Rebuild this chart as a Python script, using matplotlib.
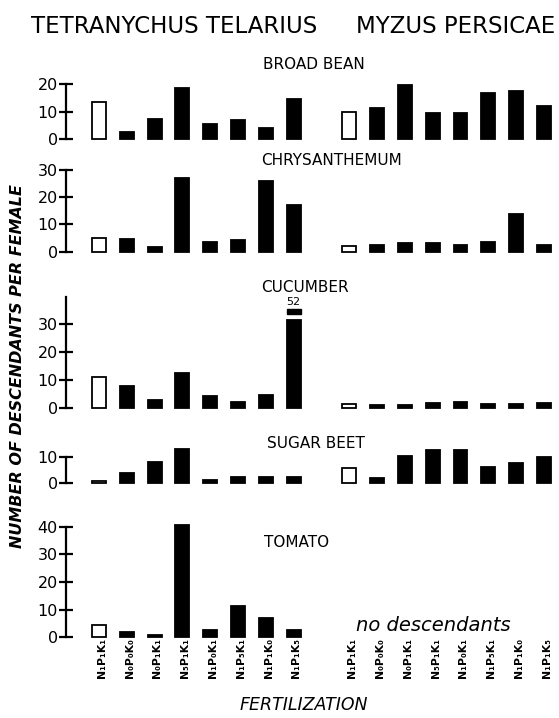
import matplotlib
matplotlib.use("Agg")
import matplotlib.pyplot as plt
import matplotlib.transforms as mtransforms
import numpy as np

plt.rcParams['font.family'] = ['DejaVu Sans']

# ---------------- data ----------------
fert_labels = ['N₁P₁K₁', 'N₀P₀K₀', 'N₀P₁K₁', 'N₅P₁K₁',
               'N₁P₀K₁', 'N₁P₅K₁', 'N₁P₁K₀', 'N₁P₁K₅']
species = ['TETRANYCHUS TELARIUS', 'MYZUS PERSICAE']
plants = ['BROAD BEAN', 'CHRYSANTHEMUM', 'CUCUMBER', 'SUGAR BEET', 'TOMATO']

broad_bean_tetranychus = [13.6, 2.4, 7.2, 18.7, 5.5, 6.9, 3.9, 14.5]
broad_bean_myzus = [9.7, 11.2, 19.6, 9.3, 9.3, 16.6, 17.6, 12.0]
chrysanthemum_tetranychus = [4.9, 4.5, 1.8, 26.9, 3.4, 4.3, 25.9, 17.1]
chrysanthemum_myzus = [2.2, 2.5, 3.2, 3.2, 2.3, 3.4, 13.8, 2.5]
cucumber_tetranychus = [11.3, 7.9, 3.0, 12.7, 4.4, 2.4, 4.7, 52.0]
cucumber_myzus = [1.6, 1.3, 1.3, 1.8, 2.1, 1.7, 1.7, 2.0]
sugar_beet_tetranychus = [0.9, 4.1, 8.2, 13.1, 1.3, 2.3, 2.6, 2.6]
sugar_beet_myzus = [5.8, 1.9, 10.6, 12.8, 12.8, 6.4, 7.9, 10.0]
tomato_tetranychus = [4.5, 2.0, 0.8, 40.5, 2.6, 11.3, 6.9, 2.6]
tomato_myzus = None  # no descendants

panel_values = [
    (broad_bean_tetranychus, broad_bean_myzus),
    (chrysanthemum_tetranychus, chrysanthemum_myzus),
    (cucumber_tetranychus, cucumber_myzus),
    (sugar_beet_tetranychus, sugar_beet_myzus),
    (tomato_tetranychus, tomato_myzus),
]
y_ticks = [[0, 10, 20], [0, 10, 20, 30], [0, 10, 20, 30], [0, 10], [0, 10, 20, 30, 40]]

# ---------------- layout (pixels) ----------------
W, H = 559, 718
# (zero baseline px, top px, top value)
layout = [
    (139.0, 84.0, 20),
    (251.7, 170.0, 30),
    (408.3, 297.1, 39.7),
    (483.3, 457.3, 10),
    (637.3, 526.7, 40),
]
title_pos = [(314, 69), (332, 165), (305, 292), (316, 448), (297, 547)]
spine_x = 66
x0_px, dx_px = 99.0, 27.81
xmin = (spine_x - x0_px) / dx_px
xmax = (W - x0_px) / dx_px
BREAK_ABOVE = 45      # values beyond this are drawn as a broken bar
BREAK_LOW, BREAK_HIGH_BOTTOM, BREAK_PIECE = 31.4, 33.8, 1.8

fig = plt.figure(figsize=(W / 100, H / 100), dpi=100)

xt = np.arange(8)
xm = np.arange(8) + 9.0
bar_w = 0.5
cols = ['white'] + ['black'] * 7


def fy(py):
    return 1 - py / H


def fx(px):
    return px / W


axes = []
for i, (plant, (vt, vm), ticks, (yb, ytp, top)) in enumerate(
        zip(plants, panel_values, y_ticks, layout)):
    ax = fig.add_axes([fx(spine_x), fy(yb), 1 - fx(spine_x), (yb - ytp) / H])
    ax.set_xlim(xmin, xmax)
    ax.set_ylim(0, top)
    ax.patch.set_visible(False)
    for s in ['top', 'right', 'bottom']:
        ax.spines[s].set_visible(False)
    ax.spines['left'].set_linewidth(1.6)
    ax.spines['left'].set_bounds(0, top)
    ax.set_xticks([])
    ax.set_yticks(ticks)
    ax.set_yticklabels([str(t) for t in ticks])
    ax.tick_params(axis='y', direction='inout', length=10, width=1.6,
                   labelsize=11.5, pad=1)

    broken = [v > BREAK_ABOVE for v in vt]
    shown = [BREAK_LOW if b else v for v, b in zip(vt, broken)]
    ax.bar(xt, shown, width=bar_w, color=cols, edgecolor='black',
           linewidth=1.3, clip_on=False)
    for x, v, b in zip(xt, vt, broken):
        if b:
            ax.bar([x], [BREAK_PIECE], bottom=BREAK_HIGH_BOTTOM, width=bar_w,
                   color='black', edgecolor='black', linewidth=1.0,
                   clip_on=False)
            ax.text(x, BREAK_HIGH_BOTTOM + BREAK_PIECE + 0.7, f'{v:.0f}',
                    ha='center', va='bottom', fontsize=8)
    if vm is not None:
        ax.bar(xm, vm, width=bar_w, color=cols, edgecolor='black',
               linewidth=1.3, clip_on=False)
    axes.append(ax)

    tx, ty = title_pos[i]
    fig.text(fx(tx), fy(ty), plant, ha='center', va='baseline', fontsize=11)

# species titles
fig.text(fx(174), fy(33.3), species[0], ha='center', va='baseline', fontsize=16.5)
fig.text(fx(456), fy(33.3), species[1], ha='center', va='baseline', fontsize=16.5)

# no descendants
fig.text(fx(433), fy(631), 'no descendants', ha='center', va='baseline',
         fontsize=14, style='italic')

# fertilization labels under tomato
ax_t = axes[-1]
trans = mtransforms.blended_transform_factory(ax_t.transData, fig.transFigure)
for xs in (xt, xm):
    for x, lab in zip(xs, fert_labels):
        ax_t.text(x + 0.1, fy(678), lab, transform=trans, rotation=90,
                  ha='center', va='bottom', fontsize=7.8, fontweight='bold')

fig.text(fx(18), fy(366), 'NUMBER OF DESCENDANTS PER FEMALE', rotation=90,
         ha='center', va='center', fontsize=11.5, fontweight='bold',
         style='italic')
fig.text(fx(304), fy(710), 'FERTILIZATION', ha='center', va='baseline',
         fontsize=12.5, style='italic')

fig.savefig('out.png', dpi=100)
